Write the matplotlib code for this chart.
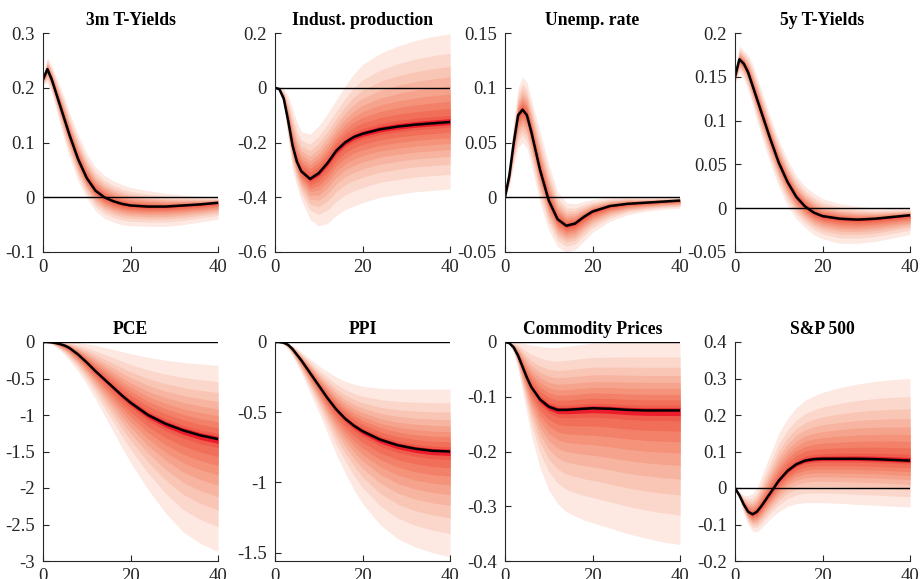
import numpy as np
import matplotlib
matplotlib.use("Agg")
import matplotlib.pyplot as plt

plt.rcParams['font.family'] = ['Liberation Serif', 'DejaVu Serif']

H = [0, 1, 2, 3, 4, 5, 6, 8, 10, 12, 14, 16, 18, 20, 24, 28, 32, 36, 40]

titles = ['3m T-Yields', 'Indust. production', 'Unemp. rate', '5y T-Yields',
          'PCE', 'PPI', 'Commodity Prices', 'S&P 500']

# median responses
med_tb3m = [0.215, 0.234, 0.215, 0.19, 0.165, 0.14, 0.115, 0.07, 0.035, 0.012, 0.0,
            -0.007, -0.012, -0.015, -0.017, -0.017, -0.015, -0.013, -0.01]
med_ip = [0.0, -0.005, -0.04, -0.12, -0.21, -0.27, -0.305, -0.333, -0.312, -0.275, -0.23,
          -0.2, -0.18, -0.168, -0.152, -0.142, -0.135, -0.13, -0.125]
med_unemp = [0.0, 0.02, 0.05, 0.075, 0.08, 0.075, 0.06, 0.025, -0.003, -0.02, -0.026,
             -0.024, -0.018, -0.013, -0.008, -0.006, -0.005, -0.004, -0.003]
med_tb5y = [0.15, 0.17, 0.165, 0.155, 0.14, 0.125, 0.11, 0.08, 0.052, 0.03, 0.013,
            0.002, -0.005, -0.009, -0.012, -0.013, -0.012, -0.01, -0.008]
med_pce = [0.0, 0.0, -0.005, -0.015, -0.03, -0.05, -0.08, -0.17, -0.28, -0.4, -0.51,
           -0.62, -0.73, -0.83, -1.0, -1.12, -1.21, -1.28, -1.33]
med_ppi = [0.0, 0.0, -0.005, -0.02, -0.05, -0.09, -0.13, -0.22, -0.31, -0.4, -0.48,
           -0.545, -0.595, -0.635, -0.695, -0.735, -0.76, -0.775, -0.78]
med_comm = [0.0, -0.002, -0.01, -0.025, -0.045, -0.065, -0.082, -0.105, -0.118, -0.124,
            -0.124, -0.123, -0.122, -0.121, -0.122, -0.124, -0.125, -0.125, -0.125]
med_sp = [0.0, -0.02, -0.045, -0.065, -0.072, -0.065, -0.05, -0.015, 0.02, 0.047, 0.065,
          0.075, 0.079, 0.08, 0.08, 0.08, 0.079, 0.077, 0.075]

# outer (5th / 95th percentile) bounds
hi_tb3m = [0.222, 0.255, 0.24, 0.22, 0.2, 0.18, 0.155, 0.115, 0.08, 0.055, 0.04, 0.03,
           0.023, 0.018, 0.012, 0.007, 0.004, 0.002, 0.0]
lo_tb3m = [0.205, 0.21, 0.19, 0.16, 0.13, 0.1, 0.075, 0.03, -0.002, -0.025, -0.038,
           -0.045, -0.05, -0.052, -0.053, -0.053, -0.05, -0.045, -0.04]
hi_ip = [0.0, 0.0, -0.005, -0.03, -0.075, -0.125, -0.16, -0.17, -0.14, -0.095, -0.045,
         0.005, 0.05, 0.085, 0.125, 0.152, 0.172, 0.187, 0.197]
lo_ip = [0.0, -0.01, -0.06, -0.19, -0.3, -0.36, -0.41, -0.48, -0.505, -0.495, -0.467,
         -0.445, -0.432, -0.42, -0.4, -0.39, -0.38, -0.375, -0.37]
hi_unemp = [0.0, 0.03, 0.07, 0.1, 0.11, 0.105, 0.09, 0.06, 0.03, 0.005, -0.005, -0.006,
            -0.004, -0.002, 0.0, 0.001, 0.0, 0.0, 0.0]
lo_unemp = [0.0, 0.01, 0.03, 0.045, 0.05, 0.045, 0.03, -0.005, -0.03, -0.045, -0.05,
            -0.048, -0.04, -0.032, -0.022, -0.016, -0.013, -0.011, -0.01]
hi_tb5y = [0.155, 0.185, 0.18, 0.175, 0.165, 0.15, 0.135, 0.105, 0.078, 0.055, 0.037,
           0.025, 0.017, 0.011, 0.005, 0.002, 0.0, 0.0, 0.0]
lo_tb5y = [0.142, 0.155, 0.148, 0.135, 0.118, 0.1, 0.083, 0.052, 0.025, 0.003, -0.012,
           -0.022, -0.03, -0.035, -0.04, -0.04, -0.038, -0.034, -0.03]
hi_pce = [0.0, 0.005, 0.01, 0.015, 0.015, 0.01, 0.005, -0.01, -0.025, -0.045, -0.075,
          -0.1, -0.13, -0.16, -0.21, -0.25, -0.28, -0.3, -0.32]
lo_pce = [0.0, -0.01, -0.03, -0.07, -0.12, -0.18, -0.25, -0.4, -0.58, -0.78, -1.0,
          -1.22, -1.44, -1.65, -2.02, -2.34, -2.6, -2.76, -2.87]
hi_ppi = [0.0, 0.005, 0.0, -0.01, -0.025, -0.045, -0.07, -0.12, -0.17, -0.21, -0.25,
          -0.28, -0.3, -0.315, -0.33, -0.335, -0.335, -0.335, -0.335]
lo_ppi = [0.0, -0.005, -0.02, -0.05, -0.1, -0.16, -0.22, -0.36, -0.5, -0.65, -0.8,
          -0.93, -1.05, -1.15, -1.3, -1.4, -1.46, -1.5, -1.53]
hi_comm = [0.0, 0.0, 0.0, 0.0, -0.002, -0.004, -0.006, -0.008, -0.01, -0.01, -0.008,
           -0.006, -0.004, -0.002, -0.001, 0.0, 0.0, 0.0, 0.0]
lo_comm = [0.0, -0.005, -0.02, -0.05, -0.09, -0.13, -0.17, -0.23, -0.27, -0.295, -0.31,
           -0.318, -0.325, -0.33, -0.34, -0.35, -0.358, -0.365, -0.37]
hi_sp = [0.0, -0.01, -0.02, -0.02, -0.015, 0.0, 0.03, 0.09, 0.15, 0.19, 0.22, 0.24,
         0.252, 0.262, 0.275, 0.285, 0.292, 0.297, 0.3]
lo_sp = [0.0, -0.03, -0.07, -0.1, -0.118, -0.12, -0.11, -0.085, -0.065, -0.05, -0.043,
         -0.04, -0.04, -0.04, -0.042, -0.045, -0.047, -0.05, -0.052]

medians = [med_tb3m, med_ip, med_unemp, med_tb5y, med_pce, med_ppi, med_comm, med_sp]
uppers = [hi_tb3m, hi_ip, hi_unemp, hi_tb5y, hi_pce, hi_ppi, hi_comm, hi_sp]
lowers = [lo_tb3m, lo_ip, lo_unemp, lo_tb5y, lo_pce, lo_ppi, lo_comm, lo_sp]

ylims = [(-0.1, 0.3), (-0.6, 0.2), (-0.05, 0.15), (-0.05, 0.2),
         (-3, 0), (-1.56, 0), (-0.4, 0), (-0.2, 0.4)]
yticks = [[-0.1, 0, 0.1, 0.2, 0.3], [-0.6, -0.4, -0.2, 0, 0.2],
          [-0.05, 0, 0.05, 0.1, 0.15], [-0.05, 0, 0.05, 0.1, 0.15, 0.2],
          [-3, -2.5, -2, -1.5, -1, -0.5, 0], [-1.5, -1, -0.5, 0],
          [-0.4, -0.3, -0.2, -0.1, 0], [-0.2, -0.1, 0, 0.1, 0.2, 0.3, 0.4]]

# nested bands, outer to inner: percentile, normal quantile, colour
pct = [5, 10, 15, 20, 25, 30, 35, 40, 45, 47.5]
zq = [1.645, 1.282, 1.036, 0.842, 0.674, 0.524, 0.385, 0.253, 0.126, 0.063]
band_cols = ['#fde8e2', '#fbd6ca', '#f9c5b4', '#f7b4a0', '#f6a38d',
             '#f4927a', '#f38068', '#f16e58', '#f05c4b', '#ec1c2d']

axis_col = '#262626'
fig = plt.figure(figsize=(9.21, 5.79), dpi=100)
lefts = [43, 275, 505, 735]
W, Hh = 175 / 921, 219 / 579
bottoms = [(579 - 252) / 579, (579 - 561) / 579]

x = np.array(H)
for i in range(8):
    r, c = divmod(i, 4)
    ax = fig.add_axes([lefts[c] / 921, bottoms[r], W, Hh])
    m = np.array(medians[i])
    up = np.array(uppers[i])
    lo = np.array(lowers[i])
    for k in range(len(pct)):
        f = zq[k] / zq[0]
        ax.fill_between(x, m + f * (up - m), m + f * (lo - m), color=band_cols[k],
                        linewidth=0)
    ax.plot([0, 40], [0, 0], color='black', lw=1.0)
    ax.plot(x, m, color='black', lw=1.8)
    ax.set_xlim(0, 40)
    ax.set_ylim(*ylims[i])
    ax.set_xticks([0, 20, 40])
    ax.set_yticks(yticks[i])
    ax.set_yticklabels(['%g' % v for v in yticks[i]])
    for s in ['top', 'right']:
        ax.spines[s].set_visible(False)
    for s in ['left', 'bottom']:
        ax.spines[s].set_color(axis_col)
        ax.spines[s].set_linewidth(0.8)
    ax.tick_params(direction='in', length=4, width=0.8, colors=axis_col,
                   labelsize=13.5)
    ax.tick_params(axis='y', pad=6)
    ax.tick_params(axis='x', pad=5)
    ax.set_title(titles[i], fontsize=12.7, fontweight='bold', pad=6)

fig.savefig('out.png', dpi=100)
